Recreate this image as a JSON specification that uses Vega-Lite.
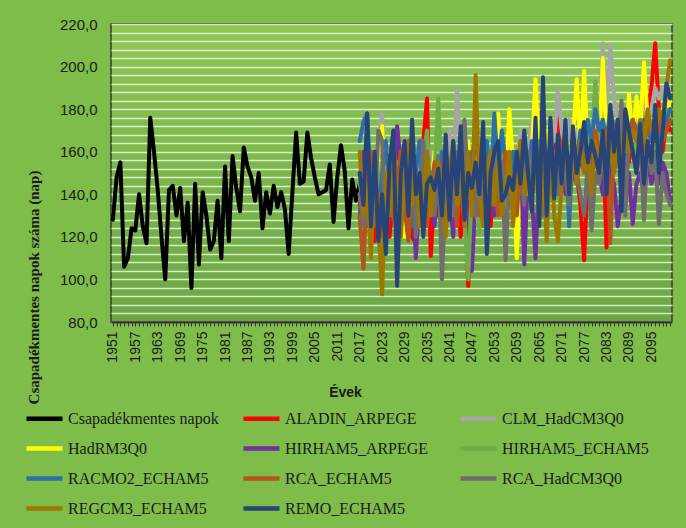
{
"$schema":"https://vega.github.io/schema/vega-lite/v6.json",
"width":561,"height":298,
"autosize":{"type":"none"},
"padding":{"left":111,"top":24,"right":14,"bottom":206},
"background":"#7fbd4a",
"config":{"view":{"stroke":"#3a3a3a","strokeWidth":1.5,"fill":{"gradient":"linear","x1":0,"y1":0,"x2":0,"y2":1,"stops":[{"offset":0,"color":"#8dc754"},{"offset":1,"color":"#6ba743"}]}}},
"data":{"values":[
{"year":1951,"Csapadékmentes napok":128},{"year":1952,"Csapadékmentes napok":148},{"year":1953,"Csapadékmentes napok":155},{"year":1954,"Csapadékmentes napok":106},{"year":1955,"Csapadékmentes napok":110},{"year":1956,"Csapadékmentes napok":124},{"year":1957,"Csapadékmentes napok":123},{"year":1958,"Csapadékmentes napok":140},{"year":1959,"Csapadékmentes napok":125},{"year":1960,"Csapadékmentes napok":117},
{"year":1961,"Csapadékmentes napok":176},{"year":1962,"Csapadékmentes napok":160},{"year":1963,"Csapadékmentes napok":142},{"year":1964,"Csapadékmentes napok":120},{"year":1965,"Csapadékmentes napok":100},{"year":1966,"Csapadékmentes napok":142},{"year":1967,"Csapadékmentes napok":144},{"year":1968,"Csapadékmentes napok":130},{"year":1969,"Csapadékmentes napok":143},{"year":1970,"Csapadékmentes napok":118},
{"year":1971,"Csapadékmentes napok":136},{"year":1972,"Csapadékmentes napok":96},{"year":1973,"Csapadékmentes napok":145},{"year":1974,"Csapadékmentes napok":107},{"year":1975,"Csapadékmentes napok":141},{"year":1976,"Csapadékmentes napok":130},{"year":1977,"Csapadékmentes napok":114},{"year":1978,"Csapadékmentes napok":118},{"year":1979,"Csapadékmentes napok":137},{"year":1980,"Csapadékmentes napok":110},
{"year":1981,"Csapadékmentes napok":153},{"year":1982,"Csapadékmentes napok":118},{"year":1983,"Csapadékmentes napok":158},{"year":1984,"Csapadékmentes napok":143},{"year":1985,"Csapadékmentes napok":132},{"year":1986,"Csapadékmentes napok":162},{"year":1987,"Csapadékmentes napok":153},{"year":1988,"Csapadékmentes napok":148},{"year":1989,"Csapadékmentes napok":137},{"year":1990,"Csapadékmentes napok":150},
{"year":1991,"Csapadékmentes napok":124},{"year":1992,"Csapadékmentes napok":141},{"year":1993,"Csapadékmentes napok":131},{"year":1994,"Csapadékmentes napok":144},{"year":1995,"Csapadékmentes napok":134},{"year":1996,"Csapadékmentes napok":141},{"year":1997,"Csapadékmentes napok":133},{"year":1998,"Csapadékmentes napok":112},{"year":1999,"Csapadékmentes napok":141},{"year":2000,"Csapadékmentes napok":169},
{"year":2001,"Csapadékmentes napok":145},{"year":2002,"Csapadékmentes napok":146},{"year":2003,"Csapadékmentes napok":169},{"year":2004,"Csapadékmentes napok":157},{"year":2005,"Csapadékmentes napok":148},{"year":2006,"Csapadékmentes napok":140},{"year":2007,"Csapadékmentes napok":141},{"year":2008,"Csapadékmentes napok":142},{"year":2009,"Csapadékmentes napok":154},{"year":2010,"Csapadékmentes napok":127},
{"year":2011,"Csapadékmentes napok":148},{"year":2012,"Csapadékmentes napok":163},{"year":2013,"Csapadékmentes napok":151},{"year":2014,"Csapadékmentes napok":124},{"year":2015,"Csapadékmentes napok":147},{"year":2016,"Csapadékmentes napok":137},
{"year":2017,"Csapadékmentes napok":145,"ALADIN_ARPEGE":135,"CLM_HadCM3Q0":150,"HadRM3Q0":140,"HIRHAM5_ARPEGE":128,"HIRHAM5_ECHAM5":145,"RACMO2_ECHAM5":165,"RCA_ECHAM5":130,"RCA_HadCM3Q0":140,"REGCM3_ECHAM5":160,"REMO_ECHAM5":150},
{"year":2018,"ALADIN_ARPEGE":150,"CLM_HadCM3Q0":140,"HadRM3Q0":130,"HIRHAM5_ARPEGE":160,"HIRHAM5_ECHAM5":135,"RACMO2_ECHAM5":174,"RCA_ECHAM5":105,"RCA_HadCM3Q0":125,"REGCM3_ECHAM5":130,"REMO_ECHAM5":135},
{"year":2019,"ALADIN_ARPEGE":125,"CLM_HadCM3Q0":160,"HadRM3Q0":145,"HIRHAM5_ARPEGE":140,"HIRHAM5_ECHAM5":150,"RACMO2_ECHAM5":178,"RCA_ECHAM5":150,"RCA_HadCM3Q0":135,"REGCM3_ECHAM5":145,"REMO_ECHAM5":178},
{"year":2020,"ALADIN_ARPEGE":140,"CLM_HadCM3Q0":130,"HadRM3Q0":155,"HIRHAM5_ARPEGE":120,"HIRHAM5_ECHAM5":130,"RACMO2_ECHAM5":140,"RCA_ECHAM5":160,"RCA_HadCM3Q0":150,"REGCM3_ECHAM5":110,"REMO_ECHAM5":125},
{"year":2021,"ALADIN_ARPEGE":118,"CLM_HadCM3Q0":145,"HadRM3Q0":135,"HIRHAM5_ARPEGE":150,"HIRHAM5_ECHAM5":160,"RACMO2_ECHAM5":155,"RCA_ECHAM5":125,"RCA_HadCM3Q0":128,"REGCM3_ECHAM5":155,"REMO_ECHAM5":160},
{"year":2022,"ALADIN_ARPEGE":145,"CLM_HadCM3Q0":165,"HadRM3Q0":160,"HIRHAM5_ARPEGE":135,"HIRHAM5_ECHAM5":140,"RACMO2_ECHAM5":130,"RCA_ECHAM5":140,"RCA_HadCM3Q0":170,"REGCM3_ECHAM5":125,"REMO_ECHAM5":118},
{"year":2023,"ALADIN_ARPEGE":130,"CLM_HadCM3Q0":178,"HadRM3Q0":172,"HIRHAM5_ARPEGE":148,"HIRHAM5_ECHAM5":155,"RACMO2_ECHAM5":150,"RCA_ECHAM5":120,"RCA_HadCM3Q0":165,"REGCM3_ECHAM5":93,"REMO_ECHAM5":140},
{"year":2024,"ALADIN_ARPEGE":155,"CLM_HadCM3Q0":140,"HadRM3Q0":125,"HIRHAM5_ARPEGE":130,"HIRHAM5_ECHAM5":125,"RACMO2_ECHAM5":165,"RCA_ECHAM5":135,"RCA_HadCM3Q0":118,"REGCM3_ECHAM5":150,"REMO_ECHAM5":112},
{"year":2025,"ALADIN_ARPEGE":120,"CLM_HadCM3Q0":150,"HadRM3Q0":150,"HIRHAM5_ARPEGE":158,"HIRHAM5_ECHAM5":145,"RACMO2_ECHAM5":135,"RCA_ECHAM5":150,"RCA_HadCM3Q0":140,"REGCM3_ECHAM5":130,"REMO_ECHAM5":155},
{"year":2026,"ALADIN_ARPEGE":140,"CLM_HadCM3Q0":135,"HadRM3Q0":140,"HIRHAM5_ARPEGE":140,"HIRHAM5_ECHAM5":165,"RACMO2_ECHAM5":160,"RCA_ECHAM5":128,"RCA_HadCM3Q0":155,"REGCM3_ECHAM5":160,"REMO_ECHAM5":170},
{"year":2027,"ALADIN_ARPEGE":160,"CLM_HadCM3Q0":155,"HadRM3Q0":130,"HIRHAM5_ARPEGE":172,"HIRHAM5_ECHAM5":135,"RACMO2_ECHAM5":145,"RCA_ECHAM5":145,"RCA_HadCM3Q0":125,"REGCM3_ECHAM5":140,"REMO_ECHAM5":97},
{"year":2028,"ALADIN_ARPEGE":125,"CLM_HadCM3Q0":140,"HadRM3Q0":145,"HIRHAM5_ARPEGE":155,"HIRHAM5_ECHAM5":150,"RACMO2_ECHAM5":130,"RCA_ECHAM5":160,"RCA_HadCM3Q0":145,"REGCM3_ECHAM5":120,"REMO_ECHAM5":150},
{"year":2029,"ALADIN_ARPEGE":138,"CLM_HadCM3Q0":130,"HadRM3Q0":120,"HIRHAM5_ARPEGE":135,"HIRHAM5_ECHAM5":128,"RACMO2_ECHAM5":155,"RCA_ECHAM5":135,"RCA_HadCM3Q0":160,"REGCM3_ECHAM5":150,"REMO_ECHAM5":165},
{"year":2030,"ALADIN_ARPEGE":150,"CLM_HadCM3Q0":160,"HadRM3Q0":140,"HIRHAM5_ARPEGE":120,"HIRHAM5_ECHAM5":145,"RACMO2_ECHAM5":140,"RCA_ECHAM5":118,"RCA_HadCM3Q0":132,"REGCM3_ECHAM5":165,"REMO_ECHAM5":130},
{"year":2031,"ALADIN_ARPEGE":120,"CLM_HadCM3Q0":145,"HadRM3Q0":155,"HIRHAM5_ARPEGE":150,"HIRHAM5_ECHAM5":160,"RACMO2_ECHAM5":125,"RCA_ECHAM5":140,"RCA_HadCM3Q0":150,"REGCM3_ECHAM5":135,"REMO_ECHAM5":175},
{"year":2032,"ALADIN_ARPEGE":117,"CLM_HadCM3Q0":135,"HadRM3Q0":130,"HIRHAM5_ARPEGE":110,"HIRHAM5_ECHAM5":140,"RACMO2_ECHAM5":150,"RCA_ECHAM5":150,"RCA_HadCM3Q0":120,"REGCM3_ECHAM5":150,"REMO_ECHAM5":140},
{"year":2033,"ALADIN_ARPEGE":150,"CLM_HadCM3Q0":165,"HadRM3Q0":145,"HIRHAM5_ARPEGE":140,"HIRHAM5_ECHAM5":125,"RACMO2_ECHAM5":165,"RCA_ECHAM5":130,"RCA_HadCM3Q0":140,"REGCM3_ECHAM5":125,"REMO_ECHAM5":150},
{"year":2034,"ALADIN_ARPEGE":165,"CLM_HadCM3Q0":150,"HadRM3Q0":135,"HIRHAM5_ARPEGE":160,"HIRHAM5_ECHAM5":155,"RACMO2_ECHAM5":140,"RCA_ECHAM5":145,"RCA_HadCM3Q0":165,"REGCM3_ECHAM5":140,"REMO_ECHAM5":120},
{"year":2035,"ALADIN_ARPEGE":185,"CLM_HadCM3Q0":140,"HadRM3Q0":150,"HIRHAM5_ARPEGE":130,"HIRHAM5_ECHAM5":170,"RACMO2_ECHAM5":160,"RCA_ECHAM5":125,"RCA_HadCM3Q0":135,"REGCM3_ECHAM5":160,"REMO_ECHAM5":145},
{"year":2036,"ALADIN_ARPEGE":111,"CLM_HadCM3Q0":160,"HadRM3Q0":140,"HIRHAM5_ARPEGE":145,"HIRHAM5_ECHAM5":140,"RACMO2_ECHAM5":135,"RCA_ECHAM5":140,"RCA_HadCM3Q0":150,"REGCM3_ECHAM5":130,"REMO_ECHAM5":148},
{"year":2037,"ALADIN_ARPEGE":140,"CLM_HadCM3Q0":150,"HadRM3Q0":160,"HIRHAM5_ARPEGE":125,"HIRHAM5_ECHAM5":150,"RACMO2_ECHAM5":150,"RCA_ECHAM5":155,"RCA_HadCM3Q0":130,"REGCM3_ECHAM5":145,"REMO_ECHAM5":142},
{"year":2038,"ALADIN_ARPEGE":130,"CLM_HadCM3Q0":135,"HadRM3Q0":145,"HIRHAM5_ARPEGE":150,"HIRHAM5_ECHAM5":185,"RACMO2_ECHAM5":140,"RCA_ECHAM5":135,"RCA_HadCM3Q0":158,"REGCM3_ECHAM5":155,"REMO_ECHAM5":152},
{"year":2039,"ALADIN_ARPEGE":150,"CLM_HadCM3Q0":155,"HadRM3Q0":130,"HIRHAM5_ARPEGE":135,"HIRHAM5_ECHAM5":140,"RACMO2_ECHAM5":160,"RCA_ECHAM5":150,"RCA_HadCM3Q0":100,"REGCM3_ECHAM5":140,"REMO_ECHAM5":130},
{"year":2040,"ALADIN_ARPEGE":125,"CLM_HadCM3Q0":145,"HadRM3Q0":150,"HIRHAM5_ARPEGE":160,"HIRHAM5_ECHAM5":125,"RACMO2_ECHAM5":145,"RCA_ECHAM5":160,"RCA_HadCM3Q0":145,"REGCM3_ECHAM5":120,"REMO_ECHAM5":168},
{"year":2041,"ALADIN_ARPEGE":160,"CLM_HadCM3Q0":170,"HadRM3Q0":140,"HIRHAM5_ARPEGE":140,"HIRHAM5_ECHAM5":150,"RACMO2_ECHAM5":130,"RCA_ECHAM5":130,"RCA_HadCM3Q0":155,"REGCM3_ECHAM5":150,"REMO_ECHAM5":128},
{"year":2042,"ALADIN_ARPEGE":135,"CLM_HadCM3Q0":150,"HadRM3Q0":160,"HIRHAM5_ARPEGE":120,"HIRHAM5_ECHAM5":135,"RACMO2_ECHAM5":155,"RCA_ECHAM5":145,"RCA_HadCM3Q0":130,"REGCM3_ECHAM5":165,"REMO_ECHAM5":165},
{"year":2043,"ALADIN_ARPEGE":145,"CLM_HadCM3Q0":189,"HadRM3Q0":135,"HIRHAM5_ARPEGE":155,"HIRHAM5_ECHAM5":145,"RACMO2_ECHAM5":140,"RCA_ECHAM5":125,"RCA_HadCM3Q0":160,"REGCM3_ECHAM5":135,"REMO_ECHAM5":140},
{"year":2044,"ALADIN_ARPEGE":120,"CLM_HadCM3Q0":160,"HadRM3Q0":150,"HIRHAM5_ARPEGE":135,"HIRHAM5_ECHAM5":160,"RACMO2_ECHAM5":165,"RCA_ECHAM5":150,"RCA_HadCM3Q0":140,"REGCM3_ECHAM5":150,"REMO_ECHAM5":172},
{"year":2045,"ALADIN_ARPEGE":150,"CLM_HadCM3Q0":145,"HadRM3Q0":140,"HIRHAM5_ARPEGE":150,"HIRHAM5_ECHAM5":130,"RACMO2_ECHAM5":150,"RCA_ECHAM5":135,"RCA_HadCM3Q0":175,"REGCM3_ECHAM5":125,"REMO_ECHAM5":128},
{"year":2046,"ALADIN_ARPEGE":97,"CLM_HadCM3Q0":155,"HadRM3Q0":165,"HIRHAM5_ARPEGE":130,"HIRHAM5_ECHAM5":100,"RACMO2_ECHAM5":140,"RCA_ECHAM5":155,"RCA_HadCM3Q0":145,"REGCM3_ECHAM5":160,"REMO_ECHAM5":150},
{"year":2047,"ALADIN_ARPEGE":140,"CLM_HadCM3Q0":140,"HadRM3Q0":130,"HIRHAM5_ARPEGE":104,"HIRHAM5_ECHAM5":145,"RACMO2_ECHAM5":160,"RCA_ECHAM5":140,"RCA_HadCM3Q0":150,"REGCM3_ECHAM5":130,"REMO_ECHAM5":143},
{"year":2048,"ALADIN_ARPEGE":160,"CLM_HadCM3Q0":150,"HadRM3Q0":155,"HIRHAM5_ARPEGE":140,"HIRHAM5_ECHAM5":135,"RACMO2_ECHAM5":135,"RCA_ECHAM5":150,"RCA_HadCM3Q0":130,"REGCM3_ECHAM5":196,"REMO_ECHAM5":155},
{"year":2049,"ALADIN_ARPEGE":130,"CLM_HadCM3Q0":165,"HadRM3Q0":145,"HIRHAM5_ARPEGE":155,"HIRHAM5_ECHAM5":122,"RACMO2_ECHAM5":150,"RCA_ECHAM5":130,"RCA_HadCM3Q0":155,"REGCM3_ECHAM5":140,"REMO_ECHAM5":140},
{"year":2050,"ALADIN_ARPEGE":155,"CLM_HadCM3Q0":140,"HadRM3Q0":160,"HIRHAM5_ARPEGE":135,"HIRHAM5_ECHAM5":150,"RACMO2_ECHAM5":145,"RCA_ECHAM5":160,"RCA_HadCM3Q0":140,"REGCM3_ECHAM5":125,"REMO_ECHAM5":174},
{"year":2051,"ALADIN_ARPEGE":140,"CLM_HadCM3Q0":150,"HadRM3Q0":135,"HIRHAM5_ARPEGE":150,"HIRHAM5_ECHAM5":140,"RACMO2_ECHAM5":165,"RCA_ECHAM5":145,"RCA_HadCM3Q0":120,"REGCM3_ECHAM5":150,"REMO_ECHAM5":112},
{"year":2052,"ALADIN_ARPEGE":125,"CLM_HadCM3Q0":160,"HadRM3Q0":150,"HIRHAM5_ARPEGE":145,"HIRHAM5_ECHAM5":155,"RACMO2_ECHAM5":140,"RCA_ECHAM5":135,"RCA_HadCM3Q0":150,"REGCM3_ECHAM5":160,"REMO_ECHAM5":150},
{"year":2053,"ALADIN_ARPEGE":150,"CLM_HadCM3Q0":145,"HadRM3Q0":165,"HIRHAM5_ARPEGE":130,"HIRHAM5_ECHAM5":140,"RACMO2_ECHAM5":178,"RCA_ECHAM5":150,"RCA_HadCM3Q0":160,"REGCM3_ECHAM5":135,"REMO_ECHAM5":160},
{"year":2054,"ALADIN_ARPEGE":165,"CLM_HadCM3Q0":155,"HadRM3Q0":178,"HIRHAM5_ARPEGE":160,"HIRHAM5_ECHAM5":150,"RACMO2_ECHAM5":150,"RCA_ECHAM5":130,"RCA_HadCM3Q0":140,"REGCM3_ECHAM5":155,"REMO_ECHAM5":165},
{"year":2055,"ALADIN_ARPEGE":135,"CLM_HadCM3Q0":165,"HadRM3Q0":150,"HIRHAM5_ARPEGE":140,"HIRHAM5_ECHAM5":160,"RACMO2_ECHAM5":170,"RCA_ECHAM5":145,"RCA_HadCM3Q0":155,"REGCM3_ECHAM5":130,"REMO_ECHAM5":137},
{"year":2056,"ALADIN_ARPEGE":150,"CLM_HadCM3Q0":150,"HadRM3Q0":140,"HIRHAM5_ARPEGE":150,"HIRHAM5_ECHAM5":135,"RACMO2_ECHAM5":155,"RCA_ECHAM5":160,"RCA_HadCM3Q0":109,"REGCM3_ECHAM5":145,"REMO_ECHAM5":140},
{"year":2057,"ALADIN_ARPEGE":145,"CLM_HadCM3Q0":160,"HadRM3Q0":180,"HIRHAM5_ARPEGE":135,"HIRHAM5_ECHAM5":150,"RACMO2_ECHAM5":145,"RCA_ECHAM5":140,"RCA_HadCM3Q0":150,"REGCM3_ECHAM5":160,"REMO_ECHAM5":148},
{"year":2058,"ALADIN_ARPEGE":160,"CLM_HadCM3Q0":140,"HadRM3Q0":155,"HIRHAM5_ARPEGE":155,"HIRHAM5_ECHAM5":140,"RACMO2_ECHAM5":160,"RCA_ECHAM5":150,"RCA_HadCM3Q0":140,"REGCM3_ECHAM5":125,"REMO_ECHAM5":142},
{"year":2059,"ALADIN_ARPEGE":130,"CLM_HadCM3Q0":155,"HadRM3Q0":110,"HIRHAM5_ARPEGE":140,"HIRHAM5_ECHAM5":160,"RACMO2_ECHAM5":150,"RCA_ECHAM5":130,"RCA_HadCM3Q0":160,"REGCM3_ECHAM5":150,"REMO_ECHAM5":160},
{"year":2060,"ALADIN_ARPEGE":165,"CLM_HadCM3Q0":170,"HadRM3Q0":150,"HIRHAM5_ARPEGE":160,"HIRHAM5_ECHAM5":145,"RACMO2_ECHAM5":140,"RCA_ECHAM5":155,"RCA_HadCM3Q0":150,"REGCM3_ECHAM5":165,"REMO_ECHAM5":145},
{"year":2061,"ALADIN_ARPEGE":140,"CLM_HadCM3Q0":150,"HadRM3Q0":165,"HIRHAM5_ARPEGE":107,"HIRHAM5_ECHAM5":155,"RACMO2_ECHAM5":160,"RCA_ECHAM5":145,"RCA_HadCM3Q0":135,"REGCM3_ECHAM5":140,"REMO_ECHAM5":170},
{"year":2062,"ALADIN_ARPEGE":155,"CLM_HadCM3Q0":160,"HadRM3Q0":145,"HIRHAM5_ARPEGE":150,"HIRHAM5_ECHAM5":140,"RACMO2_ECHAM5":150,"RCA_ECHAM5":160,"RCA_HadCM3Q0":160,"REGCM3_ECHAM5":150,"REMO_ECHAM5":150},
{"year":2063,"ALADIN_ARPEGE":150,"CLM_HadCM3Q0":175,"HadRM3Q0":160,"HIRHAM5_ARPEGE":140,"HIRHAM5_ECHAM5":160,"RACMO2_ECHAM5":165,"RCA_ECHAM5":140,"RCA_HadCM3Q0":145,"REGCM3_ECHAM5":135,"REMO_ECHAM5":132},
{"year":2064,"ALADIN_ARPEGE":170,"CLM_HadCM3Q0":160,"HadRM3Q0":194,"HIRHAM5_ARPEGE":110,"HIRHAM5_ECHAM5":150,"RACMO2_ECHAM5":155,"RCA_ECHAM5":155,"RCA_HadCM3Q0":165,"REGCM3_ECHAM5":160,"REMO_ECHAM5":176},
{"year":2065,"ALADIN_ARPEGE":145,"CLM_HadCM3Q0":150,"HadRM3Q0":160,"HIRHAM5_ARPEGE":150,"HIRHAM5_ECHAM5":165,"RACMO2_ECHAM5":140,"RCA_ECHAM5":145,"RCA_HadCM3Q0":150,"REGCM3_ECHAM5":125,"REMO_ECHAM5":125},
{"year":2066,"ALADIN_ARPEGE":160,"CLM_HadCM3Q0":165,"HadRM3Q0":150,"HIRHAM5_ARPEGE":140,"HIRHAM5_ECHAM5":150,"RACMO2_ECHAM5":170,"RCA_ECHAM5":165,"RCA_HadCM3Q0":130,"REGCM3_ECHAM5":155,"REMO_ECHAM5":195},
{"year":2067,"ALADIN_ARPEGE":135,"CLM_HadCM3Q0":155,"HadRM3Q0":170,"HIRHAM5_ARPEGE":155,"HIRHAM5_ECHAM5":140,"RACMO2_ECHAM5":150,"RCA_ECHAM5":150,"RCA_HadCM3Q0":160,"REGCM3_ECHAM5":118,"REMO_ECHAM5":130},
{"year":2068,"ALADIN_ARPEGE":155,"CLM_HadCM3Q0":175,"HadRM3Q0":155,"HIRHAM5_ARPEGE":160,"HIRHAM5_ECHAM5":165,"RACMO2_ECHAM5":160,"RCA_ECHAM5":140,"RCA_HadCM3Q0":145,"REGCM3_ECHAM5":165,"REMO_ECHAM5":176},
{"year":2069,"ALADIN_ARPEGE":145,"CLM_HadCM3Q0":165,"HadRM3Q0":145,"HIRHAM5_ARPEGE":145,"HIRHAM5_ECHAM5":150,"RACMO2_ECHAM5":155,"RCA_ECHAM5":160,"RCA_HadCM3Q0":155,"REGCM3_ECHAM5":130,"REMO_ECHAM5":138},
{"year":2070,"ALADIN_ARPEGE":186,"CLM_HadCM3Q0":189,"HadRM3Q0":165,"HIRHAM5_ARPEGE":150,"HIRHAM5_ECHAM5":160,"RACMO2_ECHAM5":165,"RCA_ECHAM5":150,"RCA_HadCM3Q0":140,"REGCM3_ECHAM5":118,"REMO_ECHAM5":168},
{"year":2071,"ALADIN_ARPEGE":150,"CLM_HadCM3Q0":170,"HadRM3Q0":150,"HIRHAM5_ARPEGE":160,"HIRHAM5_ECHAM5":145,"RACMO2_ECHAM5":150,"RCA_ECHAM5":165,"RCA_HadCM3Q0":160,"REGCM3_ECHAM5":145,"REMO_ECHAM5":145},
{"year":2072,"ALADIN_ARPEGE":165,"CLM_HadCM3Q0":160,"HadRM3Q0":170,"HIRHAM5_ARPEGE":140,"HIRHAM5_ECHAM5":165,"RACMO2_ECHAM5":170,"RCA_ECHAM5":155,"RCA_HadCM3Q0":150,"REGCM3_ECHAM5":170,"REMO_ECHAM5":175},
{"year":2073,"ALADIN_ARPEGE":140,"CLM_HadCM3Q0":175,"HadRM3Q0":155,"HIRHAM5_ARPEGE":155,"HIRHAM5_ECHAM5":150,"RACMO2_ECHAM5":125,"RCA_ECHAM5":145,"RCA_HadCM3Q0":135,"REGCM3_ECHAM5":140,"REMO_ECHAM5":140},
{"year":2074,"ALADIN_ARPEGE":160,"CLM_HadCM3Q0":160,"HadRM3Q0":165,"HIRHAM5_ARPEGE":150,"HIRHAM5_ECHAM5":160,"RACMO2_ECHAM5":165,"RCA_ECHAM5":160,"RCA_HadCM3Q0":160,"REGCM3_ECHAM5":160,"REMO_ECHAM5":172},
{"year":2075,"ALADIN_ARPEGE":150,"CLM_HadCM3Q0":170,"HadRM3Q0":194,"HIRHAM5_ARPEGE":145,"HIRHAM5_ECHAM5":155,"RACMO2_ECHAM5":155,"RCA_ECHAM5":150,"RCA_HadCM3Q0":150,"REGCM3_ECHAM5":145,"REMO_ECHAM5":150},
{"year":2076,"ALADIN_ARPEGE":135,"CLM_HadCM3Q0":165,"HadRM3Q0":160,"HIRHAM5_ARPEGE":160,"HIRHAM5_ECHAM5":165,"RACMO2_ECHAM5":170,"RCA_ECHAM5":165,"RCA_HadCM3Q0":140,"REGCM3_ECHAM5":165,"REMO_ECHAM5":160},
{"year":2077,"ALADIN_ARPEGE":109,"CLM_HadCM3Q0":160,"HadRM3Q0":198,"HIRHAM5_ARPEGE":150,"HIRHAM5_ECHAM5":150,"RACMO2_ECHAM5":160,"RCA_ECHAM5":155,"RCA_HadCM3Q0":130,"REGCM3_ECHAM5":150,"REMO_ECHAM5":174},
{"year":2078,"ALADIN_ARPEGE":150,"CLM_HadCM3Q0":175,"HadRM3Q0":160,"HIRHAM5_ARPEGE":155,"HIRHAM5_ECHAM5":170,"RACMO2_ECHAM5":175,"RCA_ECHAM5":160,"RCA_HadCM3Q0":155,"REGCM3_ECHAM5":160,"REMO_ECHAM5":155},
{"year":2079,"ALADIN_ARPEGE":165,"CLM_HadCM3Q0":165,"HadRM3Q0":150,"HIRHAM5_ARPEGE":145,"HIRHAM5_ECHAM5":160,"RACMO2_ECHAM5":165,"RCA_ECHAM5":150,"RCA_HadCM3Q0":123,"REGCM3_ECHAM5":140,"REMO_ECHAM5":165},
{"year":2080,"ALADIN_ARPEGE":160,"CLM_HadCM3Q0":180,"HadRM3Q0":170,"HIRHAM5_ARPEGE":160,"HIRHAM5_ECHAM5":193,"RACMO2_ECHAM5":180,"RCA_ECHAM5":170,"RCA_HadCM3Q0":150,"REGCM3_ECHAM5":165,"REMO_ECHAM5":158},
{"year":2081,"ALADIN_ARPEGE":150,"CLM_HadCM3Q0":170,"HadRM3Q0":160,"HIRHAM5_ARPEGE":150,"HIRHAM5_ECHAM5":165,"RACMO2_ECHAM5":170,"RCA_ECHAM5":160,"RCA_HadCM3Q0":145,"REGCM3_ECHAM5":150,"REMO_ECHAM5":150},
{"year":2082,"ALADIN_ARPEGE":170,"CLM_HadCM3Q0":211,"HadRM3Q0":204,"HIRHAM5_ARPEGE":140,"HIRHAM5_ECHAM5":175,"RACMO2_ECHAM5":175,"RCA_ECHAM5":155,"RCA_HadCM3Q0":160,"REGCM3_ECHAM5":170,"REMO_ECHAM5":170},
{"year":2083,"ALADIN_ARPEGE":115,"CLM_HadCM3Q0":180,"HadRM3Q0":165,"HIRHAM5_ARPEGE":160,"HIRHAM5_ECHAM5":160,"RACMO2_ECHAM5":165,"RCA_ECHAM5":170,"RCA_HadCM3Q0":140,"REGCM3_ECHAM5":155,"REMO_ECHAM5":140},
{"year":2084,"ALADIN_ARPEGE":145,"CLM_HadCM3Q0":210,"HadRM3Q0":175,"HIRHAM5_ARPEGE":150,"HIRHAM5_ECHAM5":170,"RACMO2_ECHAM5":180,"RCA_ECHAM5":117,"RCA_HadCM3Q0":165,"REGCM3_ECHAM5":165,"REMO_ECHAM5":182},
{"year":2085,"ALADIN_ARPEGE":160,"CLM_HadCM3Q0":185,"HadRM3Q0":160,"HIRHAM5_ARPEGE":145,"HIRHAM5_ECHAM5":160,"RACMO2_ECHAM5":170,"RCA_ECHAM5":165,"RCA_HadCM3Q0":150,"REGCM3_ECHAM5":150,"REMO_ECHAM5":160},
{"year":2086,"ALADIN_ARPEGE":170,"CLM_HadCM3Q0":175,"HadRM3Q0":170,"HIRHAM5_ARPEGE":125,"HIRHAM5_ECHAM5":175,"RACMO2_ECHAM5":165,"RCA_ECHAM5":175,"RCA_HadCM3Q0":160,"REGCM3_ECHAM5":170,"REMO_ECHAM5":175},
{"year":2087,"ALADIN_ARPEGE":150,"CLM_HadCM3Q0":180,"HadRM3Q0":165,"HIRHAM5_ARPEGE":140,"HIRHAM5_ECHAM5":160,"RACMO2_ECHAM5":175,"RCA_ECHAM5":160,"RCA_HadCM3Q0":184,"REGCM3_ECHAM5":160,"REMO_ECHAM5":132},
{"year":2088,"ALADIN_ARPEGE":165,"CLM_HadCM3Q0":170,"HadRM3Q0":160,"HIRHAM5_ARPEGE":135,"HIRHAM5_ECHAM5":170,"RACMO2_ECHAM5":170,"RCA_ECHAM5":170,"RCA_HadCM3Q0":130,"REGCM3_ECHAM5":175,"REMO_ECHAM5":180},
{"year":2089,"ALADIN_ARPEGE":155,"CLM_HadCM3Q0":185,"HadRM3Q0":187,"HIRHAM5_ARPEGE":150,"HIRHAM5_ECHAM5":165,"RACMO2_ECHAM5":165,"RCA_ECHAM5":160,"RCA_HadCM3Q0":170,"REGCM3_ECHAM5":160,"REMO_ECHAM5":170},
{"year":2090,"ALADIN_ARPEGE":170,"CLM_HadCM3Q0":175,"HadRM3Q0":165,"HIRHAM5_ARPEGE":126,"HIRHAM5_ECHAM5":175,"RACMO2_ECHAM5":175,"RCA_ECHAM5":175,"RCA_HadCM3Q0":160,"REGCM3_ECHAM5":170,"REMO_ECHAM5":160},
{"year":2091,"ALADIN_ARPEGE":160,"CLM_HadCM3Q0":170,"HadRM3Q0":186,"HIRHAM5_ARPEGE":145,"HIRHAM5_ECHAM5":160,"RACMO2_ECHAM5":170,"RCA_ECHAM5":165,"RCA_HadCM3Q0":150,"REGCM3_ECHAM5":165,"REMO_ECHAM5":150},
{"year":2092,"ALADIN_ARPEGE":175,"CLM_HadCM3Q0":180,"HadRM3Q0":170,"HIRHAM5_ARPEGE":150,"HIRHAM5_ECHAM5":170,"RACMO2_ECHAM5":165,"RCA_ECHAM5":170,"RCA_HadCM3Q0":165,"REGCM3_ECHAM5":175,"REMO_ECHAM5":173},
{"year":2093,"ALADIN_ARPEGE":165,"CLM_HadCM3Q0":185,"HadRM3Q0":202,"HIRHAM5_ARPEGE":140,"HIRHAM5_ECHAM5":165,"RACMO2_ECHAM5":175,"RCA_ECHAM5":160,"RCA_HadCM3Q0":128,"REGCM3_ECHAM5":165,"REMO_ECHAM5":145},
{"year":2094,"ALADIN_ARPEGE":180,"CLM_HadCM3Q0":175,"HadRM3Q0":175,"HIRHAM5_ARPEGE":155,"HIRHAM5_ECHAM5":175,"RACMO2_ECHAM5":170,"RCA_ECHAM5":175,"RCA_HadCM3Q0":165,"REGCM3_ECHAM5":180,"REMO_ECHAM5":165},
{"year":2095,"ALADIN_ARPEGE":190,"CLM_HadCM3Q0":180,"HadRM3Q0":165,"HIRHAM5_ARPEGE":145,"HIRHAM5_ECHAM5":170,"RACMO2_ECHAM5":165,"RCA_ECHAM5":170,"RCA_HadCM3Q0":150,"REGCM3_ECHAM5":170,"REMO_ECHAM5":155},
{"year":2096,"ALADIN_ARPEGE":211,"CLM_HadCM3Q0":190,"HadRM3Q0":175,"HIRHAM5_ARPEGE":150,"HIRHAM5_ECHAM5":165,"RACMO2_ECHAM5":175,"RCA_ECHAM5":165,"RCA_HadCM3Q0":160,"REGCM3_ECHAM5":165,"REMO_ECHAM5":182},
{"year":2097,"ALADIN_ARPEGE":180,"CLM_HadCM3Q0":185,"HadRM3Q0":170,"HIRHAM5_ARPEGE":145,"HIRHAM5_ECHAM5":175,"RACMO2_ECHAM5":165,"RCA_ECHAM5":175,"RCA_HadCM3Q0":126,"REGCM3_ECHAM5":180,"REMO_ECHAM5":150},
{"year":2098,"ALADIN_ARPEGE":160,"CLM_HadCM3Q0":190,"HadRM3Q0":180,"HIRHAM5_ARPEGE":155,"HIRHAM5_ECHAM5":170,"RACMO2_ECHAM5":170,"RCA_ECHAM5":165,"RCA_HadCM3Q0":150,"REGCM3_ECHAM5":175,"REMO_ECHAM5":170},
{"year":2099,"ALADIN_ARPEGE":175,"CLM_HadCM3Q0":185,"HadRM3Q0":175,"HIRHAM5_ARPEGE":150,"HIRHAM5_ECHAM5":180,"RACMO2_ECHAM5":175,"RCA_ECHAM5":170,"RCA_HadCM3Q0":140,"REGCM3_ECHAM5":190,"REMO_ECHAM5":192},
{"year":2100,"ALADIN_ARPEGE":170,"CLM_HadCM3Q0":180,"HadRM3Q0":185,"HIRHAM5_ARPEGE":136,"HIRHAM5_ECHAM5":175,"RACMO2_ECHAM5":180,"RCA_ECHAM5":175,"RCA_HadCM3Q0":135,"REGCM3_ECHAM5":203,"REMO_ECHAM5":185}
]},
"transform":[
{"fold":["Csapadékmentes napok","ALADIN_ARPEGE","CLM_HadCM3Q0","HadRM3Q0","HIRHAM5_ARPEGE","HIRHAM5_ECHAM5","RACMO2_ECHAM5","RCA_ECHAM5","RCA_HadCM3Q0","REGCM3_ECHAM5","REMO_ECHAM5"],"as":["series","value"]},
{"filter":"isValid(datum.value)"}
],
"mark":{"type":"line","strokeWidth":4,"strokeJoin":"round","strokeCap":"round"},
"encoding":{
"x":{"field":"year","type":"quantitative","scale":{"domain":[1950.5,2100.5],"nice":false,"zero":false},
 "axis":{"title":"Évek","tickCount":150,"format":"d","labelExpr":"(datum.value - 1951) % 6 === 0 ? datum.label : ''","labelOverlap":false,"labelAngle":270,"labelAlign":"right","labelBaseline":"middle","labelPadding":5,"labelFont":"Liberation Sans","labelFontSize":14,"labelColor":"#1a1a1a","tickSize":4,"tickColor":"#333333","tickWidth":1,"domainColor":"#333333","domainWidth":2,"grid":false,"titleFont":"Liberation Sans","titleFontSize":14,"titleFontWeight":"bold","titleColor":"#1a1a1a","titleX":234,"titleY":70,"titleBaseline":"middle","titleAlign":"center"}},
"y":{"field":"value","type":"quantitative","scale":{"domain":[80,220],"nice":false,"zero":false},
 "axis":{"title":"Csapadékmentes napok száma (nap)","values":[80,84,88,92,96,100,104,108,112,116,120,124,128,132,136,140,144,148,152,156,160,164,168,172,176,180,184,188,192,196,200,204,208,212,216,220],"labelExpr":"datum.value % 20 === 0 ? replace(format(datum.value, '.1f'), '.', ',') : ''","labelOverlap":false,"labelPadding":14,"labelFont":"Liberation Sans","labelFontSize":15,"labelColor":"#1a1a1a","ticks":false,"domain":false,"grid":true,"gridColor":"#eef5e6","gridOpacity":0.85,"gridWidth":1.4,"titleFont":"Liberation Serif","titleFontSize":15,"titleFontWeight":"bold","titleColor":"#1a1a1a","titleAngle":270,"titleX":-78,"titleY":263,"titleAlign":"center","titleBaseline":"middle"}},
"color":{"field":"series","type":"nominal","scale":{"domain":["Csapadékmentes napok","ALADIN_ARPEGE","CLM_HadCM3Q0","HadRM3Q0","HIRHAM5_ARPEGE","HIRHAM5_ECHAM5","RACMO2_ECHAM5","RCA_ECHAM5","RCA_HadCM3Q0","REGCM3_ECHAM5","REMO_ECHAM5"],"range":["#000000","#ff0000","#a6a6a6","#ffff00","#7030a0","#70ad47","#2e6fa8","#b5541c","#6e6e6e","#9e7700","#264478"]},
 "legend":{"title":null,"orient":"none","legendX":-87,"legendY":374,"columns":3,"direction":"horizontal","gridAlign":"all","columnPadding":15,"rowPadding":-4.7,"padding":0,"symbolType":"stroke","symbolSize":1300,"symbolStrokeWidth":4.5,"labelFont":"Liberation Serif","labelFontSize":16,"labelColor":"#1a1a1a","labelOffset":3,"labelLimit":300}}
}
}
